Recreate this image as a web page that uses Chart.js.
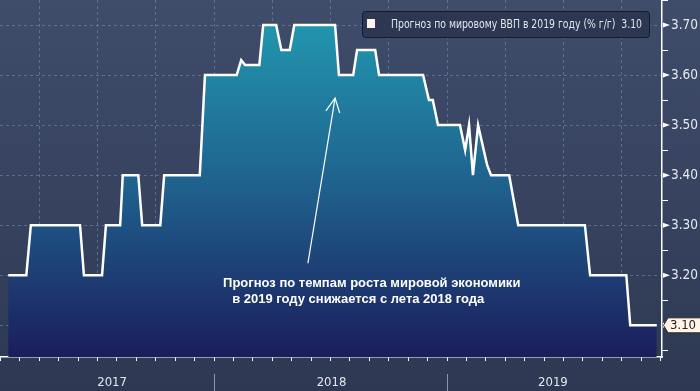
<!DOCTYPE html>
<html><head><meta charset="utf-8">
<script src="https://cdn.jsdelivr.net/npm/chart.js@4/dist/chart.umd.min.js"></script>
<style>
html,body{margin:0;padding:0;width:700px;height:391px;overflow:hidden;background:linear-gradient(180deg,#3f4c6a 0%,#36425e 55%,#2e3852 100%);}
#c{display:block}
</style></head><body>
<canvas id="c" width="700" height="391"></canvas>
<script>
// ---- data ----
const seriesLabel = 'Прогноз по мировому ВВП в 2019 году (% г/г)';
const dates = ['2017-02-13','2017-03-11','2017-03-18','2017-06-04','2017-06-10','2017-07-08','2017-07-14','2017-08-06','2017-08-10','2017-09-04','2017-09-10','2017-10-08','2017-10-14','2017-12-09','2017-12-17','2018-02-06','2018-02-13','2018-02-19','2018-03-11','2018-03-17','2018-04-07','2018-04-15','2018-04-28','2018-05-05','2018-07-08','2018-07-14','2018-08-06','2018-08-12','2018-09-10','2018-09-16','2018-11-24','2018-12-03','2018-12-09','2018-12-17','2019-01-21','2019-01-29','2019-02-05','2019-02-11','2019-02-19','2019-03-03','2019-03-09','2019-04-07','2019-04-21','2019-08-04','2019-08-12','2019-10-08','2019-10-14','2019-11-25'];
const values = [3.20,3.20,3.30,3.30,3.20,3.20,3.30,3.30,3.40,3.40,3.30,3.30,3.40,3.40,3.60,3.60,3.63,3.62,3.62,3.70,3.70,3.65,3.65,3.70,3.70,3.60,3.60,3.65,3.65,3.60,3.60,3.55,3.55,3.50,3.50,3.45,3.50,3.40,3.50,3.42,3.40,3.40,3.30,3.30,3.20,3.20,3.10,3.10];
const years = ['2017','2018','2019'];
const yTickValues = [3.05,3.10,3.15,3.20,3.25,3.30,3.35,3.40,3.45,3.50,3.55,3.60,3.65,3.70,3.75];
const annotationLines = ['Прогноз по темпам роста мировой экономики','в 2019 году снижается с лета 2018 года'];
const annotationTextPos = [['2018-01-15',3.183],['2018-01-29',3.151]];
const arrowFrom = ['2018-05-26',3.224];
const arrowTo = ['2018-07-08',3.554];

// months since 2017-01-01
function toM(s){const p=s.split('-').map(Number);return (p[0]-2017)*12+(p[1]-1)+(p[2]-1)/30;}
const isMajor = v => Math.round(v*100)%10===0;
const FONT = "'Liberation Sans', Arial, sans-serif";
const AXFONT = "'DejaVu Sans Condensed','DejaVu Sans', sans-serif";

const plugin = {
  id:'deco',
  afterDraw(chart){
    const c = chart.ctx, xs = chart.scales.x, ys = chart.scales.y, ca = chart.chartArea;
    c.save();
    // major tick triangles on right axis
    c.fillStyle = '#ffffff';
    yTickValues.filter(isMajor).forEach(v=>{
      const y = ys.getPixelForValue(v);
      c.beginPath(); c.moveTo(ca.right+1,y-2.5); c.lineTo(ca.right+8,y); c.lineTo(ca.right+1,y+2.5); c.closePath(); c.fill();
    });
    // year labels + separators
    const dStart = toM(dates[0]), dEnd = toM(dates[dates.length-1]);
    c.font = '13px '+AXFONT; c.fillStyle = '#e4e7ee'; c.textAlign='center'; c.textBaseline='middle';
    years.forEach((yr,i)=>{
      const m0 = (Number(yr)-2017)*12, m1 = m0+12;
      const a = xs.getPixelForValue(Math.max(m0,dStart)), b = xs.getPixelForValue(Math.min(m1,dEnd));
      c.fillText(yr,(a+b)/2+1, ca.bottom+26);
      if (i>0){
        const x = Math.round(xs.getPixelForValue(m0))+0.5;
        c.strokeStyle='#8c95aa'; c.lineWidth=1;
        c.beginPath(); c.moveTo(x,ca.bottom+17); c.lineTo(x,chart.height); c.stroke();
      }
    });
    // annotation arrow
    const x0 = xs.getPixelForValue(toM(arrowFrom[0])), y0 = ys.getPixelForValue(arrowFrom[1]);
    const x1 = xs.getPixelForValue(toM(arrowTo[0])), y1 = ys.getPixelForValue(arrowTo[1]);
    c.strokeStyle='#ffffff'; c.lineWidth=1.2;
    c.beginPath(); c.moveTo(x0,y0); c.lineTo(x1,y1); c.stroke();
    const L = Math.hypot(x1-x0,y1-y0), ux=(x1-x0)/L, uy=(y1-y0)/L;
    c.beginPath();
    c.moveTo(x1-ux*14-uy*7, y1-uy*14+ux*7); c.lineTo(x1,y1); c.lineTo(x1-ux*14+uy*7, y1-uy*14-ux*7);
    c.stroke();
    // annotation text
    c.font = 'bold 13px '+FONT; c.fillStyle='#ffffff'; c.textAlign='left'; c.textBaseline='middle';
    annotationLines.forEach((t,i)=>{
      c.fillText(t, xs.getPixelForValue(toM(annotationTextPos[i][0])), ys.getPixelForValue(annotationTextPos[i][1]));
    });
    // legend box
    const lastVal = values[values.length-1].toFixed(2);
    const lx0 = 362, ly0 = 11, lx1 = ca.right-13, ly1 = 37;
    c.beginPath(); c.roundRect(lx0+0.5,ly0+0.5,lx1-lx0,ly1-ly0,3);
    c.fillStyle='rgba(44,54,80,0.95)'; c.fill();
    c.strokeStyle='#141a28'; c.lineWidth=1; c.stroke();
    c.fillStyle='#fff3ef'; c.fillRect(367,19,8,9);
    c.font = '12px '+AXFONT; c.fillStyle='#e2e6ec'; c.textAlign='left'; c.textBaseline='middle';
    const lt = seriesLabel+'  '+lastVal;
    const targetW = lx1-7-391, w = c.measureText(lt).width;
    c.save(); c.translate(391,24.5); c.scale(Math.min(1.15,targetW/w),1); c.fillText(lt,0,0); c.restore();
    // last value tag
    const ty = ys.getPixelForValue(values[values.length-1]);
    c.beginPath();
    c.moveTo(ca.right+1.5,ty); c.lineTo(ca.right+6,ty-7.5); c.lineTo(chart.width+2,ty-7.5);
    c.lineTo(chart.width+2,ty+7.5); c.lineTo(ca.right+6,ty+7.5); c.closePath();
    c.fillStyle='#fff4e6'; c.fill(); c.strokeStyle='#2a2a2a'; c.lineWidth=1; c.stroke();
    c.font='13px '+AXFONT; c.fillStyle='#222'; c.textAlign='left';
    c.fillText(lastVal, ca.right+8, ty+0.5);
    c.restore();
  }
};

new Chart(document.getElementById('c').getContext('2d'), {
  type:'line',
  data:{datasets:[{
    label: seriesLabel,
    data: dates.map((d,i)=>({x:toM(d), y:values[i]})),
    borderColor:'#ffffff', borderWidth:2.5, pointRadius:0, tension:0,
    borderJoinStyle:'miter',
    fill:'start',
    backgroundColor:(ctx)=>{
      const ch = ctx.chart, ca = ch.chartArea;
      if(!ca) return 'rgba(0,0,0,0)';
      const top = ch.scales.y.getPixelForValue(3.70);
      const g = ch.ctx.createLinearGradient(0,top,0,ca.bottom);
      g.addColorStop(0,'#2295ae'); g.addColorStop(0.5,'#1f5f8c'); g.addColorStop(1,'#1b1d5c');
      return g;
    }
  }]},
  options:{
    responsive:false, animation:false,
    layout:{padding:0},
    plugins:{legend:{display:false}, tooltip:{enabled:false}},
    scales:{
      x:{
        type:'linear', min:0.978, max:35.07,
        afterBuildTicks:s=>{s.ticks=[];for(let m=1;m<=35;m++)s.ticks.push({value:m});},
        ticks:{display:false},
        grid:{
          color:ctx=> (ctx.tick && ctx.tick.value%3===0) ? 'rgba(120,152,192,0.5)' : 'rgba(0,0,0,0)',
          tickColor:'#ffffff', tickLength:4, tickWidth:1, lineWidth:1
        },
        border:{color:'#ffffff', width:1.5, dash:[3,3]},
        afterFit:s=>{s.height=34; s.paddingLeft=0; s.paddingRight=0;}
      },
      y:{
        position:'right', min:3.0367, max:3.75,
        afterBuildTicks:s=>{s.ticks=yTickValues.map(v=>({value:v}));},
        ticks:{color:'#e6e9ef', font:{family:AXFONT,size:13.5}, padding:3,
          callback:v=> isMajor(v) ? Number(v).toFixed(2) : ''},
        grid:{
          color:ctx=> (ctx.tick && isMajor(ctx.tick.value)) ? 'rgba(120,152,192,0.5)' : 'rgba(0,0,0,0)',
          tickColor:ctx=> (ctx.tick && isMajor(ctx.tick.value)) ? 'rgba(0,0,0,0)' : '#ffffff',
          tickLength:6, tickWidth:1, lineWidth:1
        },
        border:{color:'#ffffff', width:1.5, dash:[3,3]},
        afterFit:s=>{s.width=38; s.paddingTop=0; s.paddingBottom=0;}
      }
    }
  },
  plugins:[plugin]
});
</script>
</body></html>
